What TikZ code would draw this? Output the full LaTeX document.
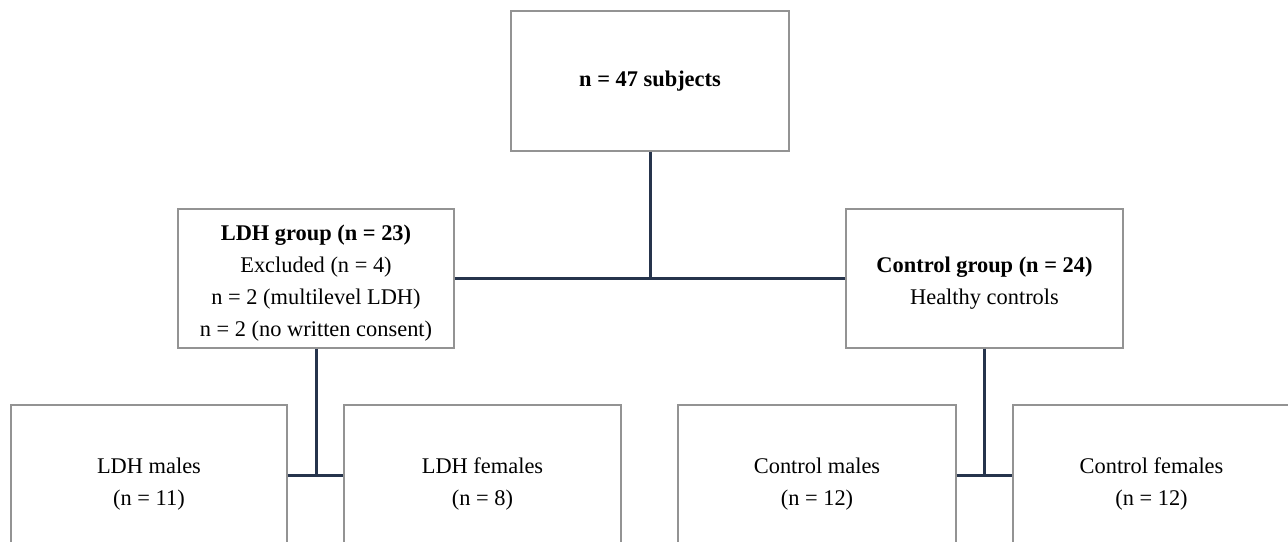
\documentclass[tikz,border=0pt]{standalone}
\usepackage{fontspec}
\setmainfont{Liberation Serif}
\usetikzlibrary{calc}
\newcommand{\uprule}{\rule{0pt}{12.5pt}}

\begin{document}
\begin{tikzpicture}[x=0.5pt, y=-0.5pt,
	box/.style={draw=gray!85, line width=0.7pt, align=center, inner sep=0pt,
		font=\fontsize{11.2}{16}\selectfont},
	link/.style={draw={rgb,255:red,38;green,52;blue,76}, line width=1.5pt}]
	\useasboundingbox (0,0) rectangle (1288,541);
	\fill[white] (0,0) rectangle (1288,541);
	\clip (0,0) rectangle (1288,541);

	\node[box, minimum width=139pt, minimum height=70pt] (all) at (650,81) {\textbf{n = 47 subjects}};
	\node[box, minimum width=138pt, minimum height=69.5pt] (ldh) at (316,278.5)
		{\uprule\textbf{LDH group (n = 23)}\\Excluded (n = 4)\\n = 2 (multilevel LDH)\\n = 2 (no written consent)};
	\node[box, minimum width=138.5pt, minimum height=69.5pt] (ctrl) at (984.5,278.5)
		{\uprule\textbf{Control group (n = 24)}\\Healthy controls};

	\node[box, minimum width=138pt, minimum height=79pt] (lm) at (149,484) {LDH males\\(n = 11)};
	\node[box, minimum width=138.5pt, minimum height=79pt] (lf) at (482.5,484) {LDH females\\(n = 8)};
	\node[box, minimum width=139pt, minimum height=79pt] (cm) at (817,484) {Control males\\(n = 12)};
	\node[box, minimum width=138.5pt, minimum height=79pt] (cf) at (1151.5,484) {Control females\\(n = 12)};

	\coordinate (jl) at (316,475);
	\coordinate (jc) at (ctrl.south |- jl);

	\draw[link] (all.south) -- (all.south |- ldh.east);
	\draw[link] (ldh.east) -- (ctrl.west);
	\draw[link] (ldh.south) -- (jl);
	\draw[link] (lm.east |- jl) -- (lf.west |- jl);
	\draw[link] (ctrl.south) -- (jc);
	\draw[link] (cm.east |- jc) -- (cf.west |- jc);
\end{tikzpicture}
\end{document}
